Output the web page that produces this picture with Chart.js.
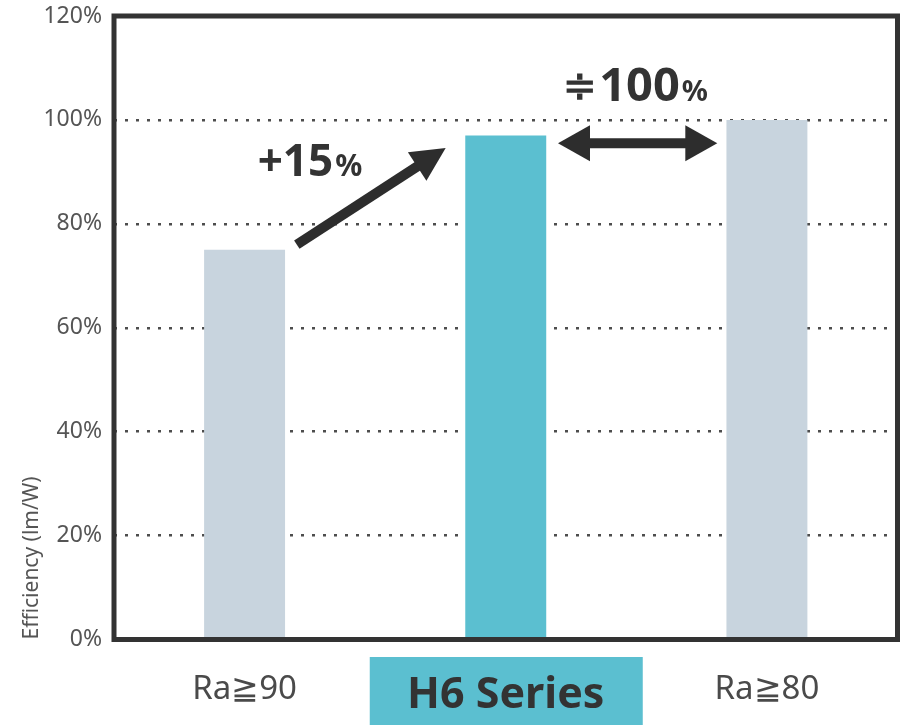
<!DOCTYPE html>
<html>
<head>
<meta charset="utf-8">
<script src="https://cdn.jsdelivr.net/npm/chart.js@4.4.1/dist/chart.umd.min.js"></script>
<style>
  html, body { margin: 0; padding: 0; background: #ffffff; }
  #wrap { width: 902px; height: 725px; position: relative; }
</style>
</head>
<body>
<div id="wrap"><canvas id="c" width="902" height="725"></canvas></div>
<script>
// ---- data ----
const categories = ['Ra≧90', 'H6 Series', 'Ra≧80'];
const efficiency = [75, 97, 100];
const barColors = ['#c8d4de', '#5bbfd0', '#c8d4de'];
const yTicks = [0, 20, 40, 60, 80, 100, 120];
const yTitle = 'Efficiency (lm/W)';
const highlightIndex = 1;

// annotations (data coordinates: x = category index, y = percent)
const riseArrow = { from: [0.2, 76], to: [0.77, 94.6] };
const riseText = { at: [0.05, 89.2], big: '+15', small: '%' };
const equalArrow = { from: [1.2, 95.5], to: [1.81, 95.5] };
const equalText = { at: [1.22, 103.6], sym: '≑', big: '100', small: '%' };

const FONT = "'Noto Sans', 'Open Sans', sans-serif";

function arrowHead(ctx, x, y, ang, len, half) {
  ctx.beginPath();
  ctx.moveTo(x, y);
  ctx.lineTo(x - len * Math.cos(ang) + half * Math.sin(ang), y - len * Math.sin(ang) - half * Math.cos(ang));
  ctx.lineTo(x - len * Math.cos(ang) - half * Math.sin(ang), y - len * Math.sin(ang) + half * Math.cos(ang));
  ctx.closePath();
  ctx.fill();
}

const decorPlugin = {
  id: 'decor',
  beforeDraw(chart) {
    const ctx = chart.ctx, x = chart.scales.x, a = chart.chartArea;
    ctx.save();
    ctx.fillStyle = '#ffffff';
    ctx.fillRect(0, 0, chart.width, chart.height);
    // highlight box behind category label
    const cx = x.getPixelForValue(highlightIndex);
    ctx.fillStyle = '#5bbfd0';
    ctx.fillRect(cx - 136, a.bottom + 17.5, 273, chart.height - a.bottom - 17);
    ctx.restore();
  },
  afterDatasetsDraw(chart) {
    const ctx = chart.ctx, a = chart.chartArea;
    const xs = chart.scales.x, ys = chart.scales.y;
    const P = (p) => [xs.getPixelForValue(p[0]), ys.getPixelForValue(p[1])];
    ctx.save();
    // frame
    ctx.strokeStyle = '#333333';
    ctx.lineWidth = 5;
    ctx.strokeRect(a.left, a.top, a.right - a.left, a.bottom - a.top);

    ctx.fillStyle = '#2d2d2d';
    ctx.strokeStyle = '#2d2d2d';
    // rise arrow
    let [x1, y1] = P(riseArrow.from), [x2, y2] = P(riseArrow.to);
    let ang = Math.atan2(y2 - y1, x2 - x1);
    ctx.lineWidth = 10;
    ctx.beginPath();
    ctx.moveTo(x1, y1);
    ctx.lineTo(x2 - 28 * Math.cos(ang), y2 - 28 * Math.sin(ang));
    ctx.stroke();
    arrowHead(ctx, x2, y2, ang, 34, 17);

    // double arrow
    [x1, y1] = P(equalArrow.from); [x2, y2] = P(equalArrow.to);
    ctx.lineWidth = 10;
    ctx.beginPath();
    ctx.moveTo(x1 + 25, y1);
    ctx.lineTo(x2 - 25, y2);
    ctx.stroke();
    arrowHead(ctx, x2, y2, 0, 32, 18);
    arrowHead(ctx, x1, y1, Math.PI, 32, 18);

    // texts
    ctx.textBaseline = 'alphabetic';
    ctx.textAlign = 'left';
    let [tx, ty] = P(riseText.at);
    ctx.fillStyle = '#333333';
    ctx.font = 'bold 44px ' + FONT;
    ctx.fillText(riseText.big, tx, ty);
    let w = ctx.measureText(riseText.big).width;
    ctx.font = 'bold 30px ' + FONT;
    ctx.fillText(riseText.small, tx + w + 2, ty);

    [tx, ty] = P(equalText.at);
    ctx.font = 'bold 40px ' + FONT;
    ctx.fillText(equalText.sym, tx, ty - 2);
    w = ctx.measureText(equalText.sym).width;
    ctx.font = 'bold 47px ' + FONT;
    ctx.fillText(equalText.big, tx + w + 2, ty);
    const w2 = ctx.measureText(equalText.big).width;
    ctx.font = 'bold 29px ' + FONT;
    ctx.fillText(equalText.small, tx + w + 4 + w2, ty);
    ctx.restore();
  }
};

new Chart(document.getElementById('c'), {
  type: 'bar',
  data: {
    labels: categories,
    datasets: [{
      data: efficiency,
      backgroundColor: barColors,
      borderWidth: 0,
      barPercentage: 0.31,
      categoryPercentage: 1.0
    }]
  },
  options: {
    responsive: false,
    animation: false,
    devicePixelRatio: 1,
    layout: { padding: { top: 16, right: 4.5, left: 0, bottom: 0 } },
    plugins: { legend: { display: false }, tooltip: { enabled: false } },
    scales: {
      x: {
        grid: { display: false, drawTicks: false },
        border: { display: false },
        afterFit(s) { s.height = 85.5; s.paddingLeft = 0; s.paddingRight = 0; },
        ticks: {
          padding: 30,
          color: (c) => c.index === highlightIndex ? '#333333' : '#4a4a4a',
          font: (c) => c.index === highlightIndex
            ? { family: FONT, size: 43, weight: 'bold' }
            : { family: FONT, size: 33, weight: 'normal' }
        }
      },
      y: {
        min: 0, max: 120,
        afterFit(s) { s.width = 114; s.paddingTop = 0; s.paddingBottom = 0; },
        afterBuildTicks(s) { s.ticks = yTicks.map(v => ({ value: v })); },
        border: { display: false, dash: [3, 8] },
        grid: {
          drawTicks: false,
          color: '#4d4d4d',
          lineWidth: 2.5
        },
        ticks: {
          padding: 12,
          color: '#555555',
          font: { family: FONT, size: 23 },
          callback: (v) => v + '%'
        },
        title: {
          display: true,
          text: yTitle,
          align: 'start',
          color: '#555555',
          font: { family: FONT, size: 21 },
          padding: { top: 19, bottom: 0 }
        }
      }
    }
  },
  plugins: [decorPlugin]
});
</script>
</body>
</html>
